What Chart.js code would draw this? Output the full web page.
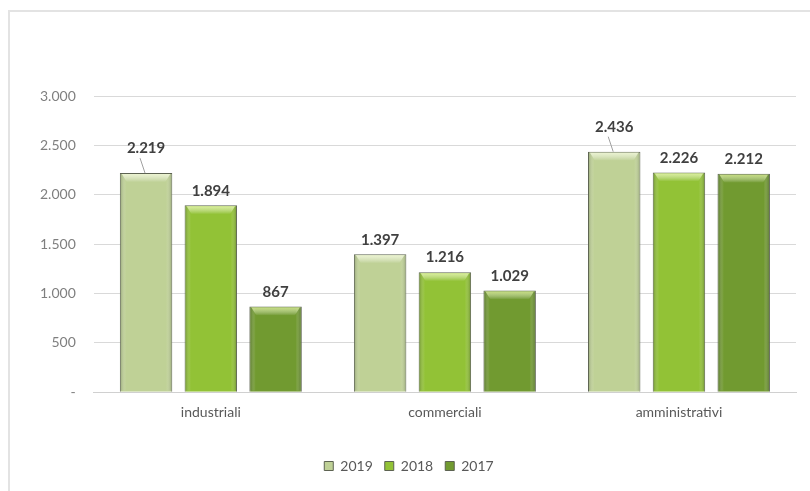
<!DOCTYPE html>
<html>
<head>
<meta charset="utf-8">
<script src="https://cdn.jsdelivr.net/npm/chart.js@4.4.1/dist/chart.umd.min.js"></script>
<style>
  html, body { margin: 0; padding: 0; background: #fff; }
  #wrap { position: absolute; left: 0; top: 0; width: 810px; height: 491px; }
  #frame { position: absolute; left: 8px; top: 10px; width: 820px; height: 500px;
           border-top: 2px solid #e3e3e3; border-left: 2px solid #e3e3e3; }
  canvas { position: absolute; left: 0; top: 0; }
</style>
</head>
<body>
<div id="wrap">
  <div id="frame"></div>
  <canvas id="chart" width="810" height="491"></canvas>
</div>
<script>
// ── Dati ───────────────────────────────────────────────
const categorie = ['industriali', 'commerciali', 'amministrativi'];
const anni      = ['2019', '2018', '2017'];
const val2019   = [2219, 1397, 2436];
const val2018   = [1894, 1216, 2226];
const val2017   = [867, 1029, 2212];

// colori per serie: base, bordo laterale scuro, riflesso in alto
const stili = [
  { base: '#bfd196', edge: 'rgba(100,115,75,0.5)', top: '#eef6d2' },
  { base: '#92c236', edge: 'rgba(60,90,15,0.5)',   top: '#def29a' },
  { base: '#719a30', edge: 'rgba(40,65,10,0.55)',  top: '#c8e07a' }
];

const FONT = 'Lato, "Open Sans", sans-serif';
const fmt = v => v === 0 ? '-' : v.toLocaleString('it-IT');

// ── Plugin: sfumatura delle barre + etichette ────────────────
const barShade = {
  id: 'barShade',
  afterDatasetDraw(chart, args) {
    const ctx = chart.ctx;
    const st = stili[args.index];
    args.meta.data.forEach(bar => {
      const l = bar.x - bar.width / 2, r = bar.x + bar.width / 2;
      const t = bar.y, b = bar.base;
      ctx.save();
      const g = ctx.createLinearGradient(l, 0, r, 0);
      g.addColorStop(0, st.edge);
      g.addColorStop(0.12, 'rgba(255,255,255,0)');
      g.addColorStop(0.88, 'rgba(255,255,255,0)');
      g.addColorStop(1, st.edge);
      ctx.fillStyle = g;
      ctx.fillRect(l + 1, t + 1, r - l - 2, b - t - 2);
      // riflesso superiore
      const h = 9;
      const g2 = ctx.createLinearGradient(0, t, 0, t + h);
      g2.addColorStop(0, st.top);
      g2.addColorStop(1, 'rgba(255,255,255,0)');
      ctx.fillStyle = g2;
      ctx.beginPath();
      ctx.moveTo(l + 2, t + 1);
      ctx.lineTo(r - 2, t + 1);
      ctx.lineTo(r - 7, t + h);
      ctx.lineTo(l + 7, t + h);
      ctx.closePath();
      ctx.fill();
      ctx.restore();
    });
  },
  afterDatasetsDraw(chart) {
    const ctx = chart.ctx;
    ctx.save();
    ctx.font = 'bold 15px ' + FONT;
    ctx.fillStyle = '#404040';
    ctx.textAlign = 'center';
    ctx.textBaseline = 'bottom';
    chart.data.datasets.forEach((ds, i) => {
      chart.getDatasetMeta(i).data.forEach((bar, j) => {
        const lead = i === 0 && j !== 1;
        const y = bar.y - (lead ? 17 : 7);
        ctx.fillText(fmt(ds.data[j]), bar.x, y);
        if (lead) {
          ctx.strokeStyle = '#a0a0a0';
          ctx.lineWidth = 1;
          ctx.beginPath();
          ctx.moveTo(bar.x - 6, y + 2);
          ctx.lineTo(bar.x - 1, bar.y);
          ctx.stroke();
        }
      });
    });
    ctx.restore();
  }
};

new Chart(document.getElementById('chart'), {
  type: 'bar',
  data: {
    labels: categorie,
    datasets: [
      { label: anni[0], data: val2019 },
      { label: anni[1], data: val2018 },
      { label: anni[2], data: val2017 }
    ].map((d, i) => Object.assign(d, {
      backgroundColor: stili[i].base,
      borderColor: '#5d6352',
      borderWidth: 1,
      barPercentage: 0.81,
      categoryPercentage: 0.83
    }))
  },
  options: {
    responsive: false,
    animation: false,
    layout: { padding: { left: 22, right: 14, top: 96, bottom: 8 } },
    plugins: {
      legend: {
        position: 'bottom',
        labels: {
          boxWidth: 9, boxHeight: 9, padding: 12,
          color: '#595959',
          font: { family: FONT, size: 14 }
        }
      },
      tooltip: { enabled: false }
    },
    scales: {
      x: {
        grid: { display: false },
        border: { color: '#d0d0d0' },
        ticks: { color: '#595959', padding: 4, font: { family: FONT, size: 14 } },
        afterFit: s => { s.height += 22; }
      },
      y: {
        min: 0, max: 3000,
        ticks: {
          stepSize: 500, color: '#7f7f7f', padding: 18,
          font: { family: FONT, size: 14 },
          callback: v => fmt(v)
        },
        grid: { color: '#d9d9d9', drawTicks: false },
        border: { display: false }
      }
    }
  },
  plugins: [barShade]
});
</script>
</body>
</html>
